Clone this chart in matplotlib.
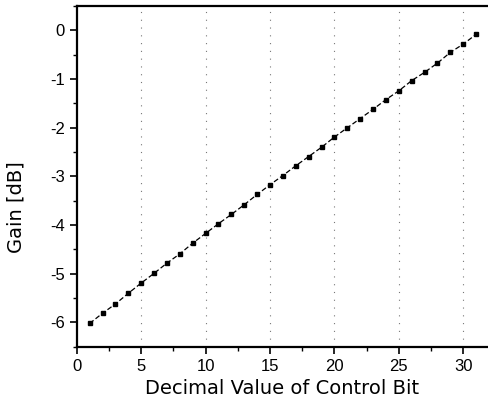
import matplotlib
matplotlib.use('Agg')
import matplotlib.pyplot as plt
from matplotlib.ticker import MultipleLocator

plt.rcParams.update({'font.family': 'Liberation Sans', 'axes.unicode_minus': False})

# 제어 비트 십진값 vs 이득
ctrl = list(range(1, 32))
gain = [-6.02, -5.81, -5.62, -5.40, -5.19, -4.99, -4.78, -4.59, -4.37, -4.17,
        -3.97, -3.78, -3.58, -3.37, -3.17, -2.98, -2.78, -2.59, -2.40, -2.19,
        -2.00, -1.81, -1.62, -1.42, -1.24, -1.03, -0.86, -0.67, -0.45, -0.28, -0.08]
grid_x = [5, 10, 15, 20, 25, 30]

fig = plt.figure(figsize=(4.89, 4.09), dpi=100)
ax = fig.add_axes([0.157, 0.152, 0.843, 0.833])

for gx in grid_x:
    ax.axvline(gx, color='#777777', ls=(0, (1, 6)), lw=0.8, zorder=0)
ax.plot(ctrl, gain, color='k', ls=(0, (4, 2)), lw=0.9,
        marker='s', ms=3.3, mfc='k', mec='k')

ax.set_xlim(0, 32)
ax.set_ylim(-6.5, 0.5)
ax.xaxis.set_major_locator(MultipleLocator(5))
ax.xaxis.set_minor_locator(MultipleLocator(2.5))
ax.yaxis.set_major_locator(MultipleLocator(1))
ax.yaxis.set_minor_locator(MultipleLocator(0.5))
ax.tick_params(which='major', direction='out', length=5, width=1.2, labelsize=12)
ax.tick_params(which='minor', direction='out', length=3, width=1.0)
ax.spines['right'].set_visible(False)
for s in ['left', 'bottom', 'top']:
    ax.spines[s].set_linewidth(1.6)

ax.set_xlabel('Decimal Value of Control Bit', fontsize=14, family='DejaVu Sans')
ax.set_ylabel('Gain [dB]', fontsize=14, family='DejaVu Sans')
ax.xaxis.set_label_coords(0.497, -0.095)
ax.yaxis.set_label_coords(-0.125, 0.41)

fig.savefig('out.png', dpi=100)
